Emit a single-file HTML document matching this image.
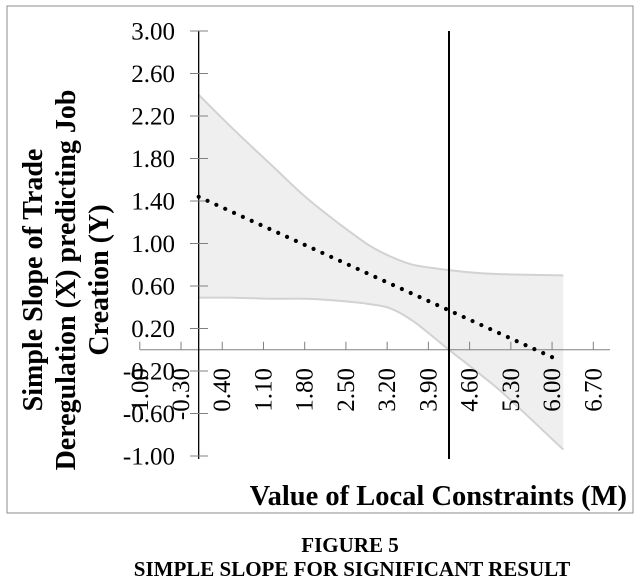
<!DOCTYPE html>
<html><head><meta charset="utf-8"><style>
body{margin:0;background:#fff;}
svg{display:block;font-family:"Liberation Serif",serif;}
</style></head><body>
<svg id="chart" width="637" height="582" viewBox="0 0 637 582" xmlns="http://www.w3.org/2000/svg">
<rect x="7" y="6" width="626" height="507" fill="none" stroke="#8c8c8c" stroke-width="1"/>
<g id="band"></g>
<g id="axes"></g>
<g id="series"></g>
<g font-weight="bold" font-size="28" text-anchor="middle">
<text transform="translate(42,280) rotate(-90)">Simple Slope of Trade</text>
<text transform="translate(75,280) rotate(-90)">Deregulation (X) predicting Job</text>
<text transform="translate(108,280) rotate(-90)">Creation (Y)</text>
</g>
<text x="627" y="505" text-anchor="end" font-weight="bold" font-size="28.5">Value of Local Constraints (M)</text>
<text x="350" y="552" text-anchor="middle" font-weight="bold" font-size="21">FIGURE 5</text>
<text x="352" y="576" text-anchor="middle" font-weight="bold" font-size="21">SIMPLE SLOPE FOR SIGNIFICANT RESULT</text>
</svg>
<script>
const yTicks = [3.00, 2.60, 2.20, 1.80, 1.40, 1.00, 0.60, 0.20, -0.20, -0.60, -1.00];
const xTicks = [-1.00, -0.30, 0.40, 1.10, 1.80, 2.50, 3.20, 3.90, 4.60, 5.30, 6.00, 6.70];
const bandX = [0, 0.6, 1.27, 1.83, 2.40, 2.9, 3.25, 3.64, 4.25, 4.8, 5.23, 6.19];
const bandUpper = [2.40, 2.07, 1.72, 1.43, 1.18, 0.98, 0.88, 0.80, 0.75, 0.72, 0.71, 0.70];
const bandLower = [0.49, 0.49, 0.48, 0.48, 0.46, 0.43, 0.39, 0.27, 0.00, -0.24, -0.44, -0.94];
const lineX = [0, 6.08];
const lineY = [1.44, -0.09];
const markerX = 4.25;

const NS = "http://www.w3.org/2000/svg";
function xs(v){ return 181 + (v + 0.3) * 58.9; }
function ys(v){ return 31 + (3 - v) * 106.25; }
function mk(tag, attrs, parent){
  const e = document.createElementNS(NS, tag);
  for (const k in attrs) e.setAttribute(k, attrs[k]);
  parent.appendChild(e);
  return e;
}
function smooth(pts, moveFirst){
  let d = moveFirst ? 'M' + pts[0][0].toFixed(1) + ',' + pts[0][1].toFixed(1) : 'L' + pts[0][0].toFixed(1) + ',' + pts[0][1].toFixed(1);
  for (let i=0;i<pts.length-1;i++){
    const p0 = pts[Math.max(0,i-1)], p1 = pts[i], p2 = pts[i+1], p3 = pts[Math.min(pts.length-1,i+2)];
    const c1 = [p1[0]+(p2[0]-p0[0])/6, p1[1]+(p2[1]-p0[1])/6];
    const c2 = [p2[0]-(p3[0]-p1[0])/6, p2[1]-(p3[1]-p1[1])/6];
    d += ' C' + c1.map(n=>n.toFixed(1)).join(',') + ' ' + c2.map(n=>n.toFixed(1)).join(',') + ' ' + p2[0].toFixed(1) + ',' + p2[1].toFixed(1);
  }
  return d;
}
const band = document.getElementById('band');
const axes = document.getElementById('axes');
const series = document.getElementById('series');

const up = bandX.map((x,i)=>[xs(x), ys(bandUpper[i])]);
const lo = bandX.map((x,i)=>[xs(x), ys(bandLower[i])]);
const fill = mk('path', {d: smooth(up, true) + ' ' + smooth(lo.slice().reverse(), false) + ' Z', fill:'#efefef', stroke:'none'}, band);


const ul = mk('path', {d: smooth(up, true), fill:'none', stroke:'#d2d2d2', 'stroke-width':2}, band);


const ll = mk('path', {d: smooth(lo, true), fill:'none', stroke:'#d2d2d2', 'stroke-width':2}, band);



const xa = mk('line', {x1:140, y1:ys(0), x2:610, y2:ys(0), stroke:'#808080', 'stroke-width':1}, axes);


xTicks.forEach(v=>{
  const x = xs(v);
  const t = mk('line', {x1:x, y1:ys(0)-8, x2:x, y2:ys(0), stroke:'#808080', 'stroke-width':1}, axes);
  
  
  const l = mk('text', {transform:`translate(${(x+8).toFixed(1)},368) rotate(-90)`, 'text-anchor':'end', 'font-size':25, fill:'#000'}, axes);
  l.textContent = v.toFixed(2);
  
  
});
const ya = mk('line', {x1:xs(0), y1:31, x2:xs(0), y2:459, stroke:'#000', 'stroke-width':1.3}, axes);


yTicks.forEach(v=>{
  const y = ys(v);
  const t = mk('line', {x1:190, y1:y, x2:208, y2:y, stroke:'#808080', 'stroke-width':1}, axes);
  
  
  const l = mk('text', {x:175, y:y+8.5, 'text-anchor':'end', 'font-size':25, fill:'#000'}, axes);
  l.textContent = v.toFixed(2);
  
  
});
const vm = mk('line', {x1:xs(markerX), y1:31, x2:xs(markerX), y2:459, stroke:'#000', 'stroke-width':2}, series);


const sl = mk('polyline', {points: lineX.map((x,i)=>xs(x).toFixed(1)+','+ys(lineY[i]).toFixed(1)).join(' '), fill:'none', stroke:'#000', 'stroke-width':4.2, 'stroke-linecap':'round', 'stroke-dasharray':'0 9.7'}, series);


</script>
</body></html>
